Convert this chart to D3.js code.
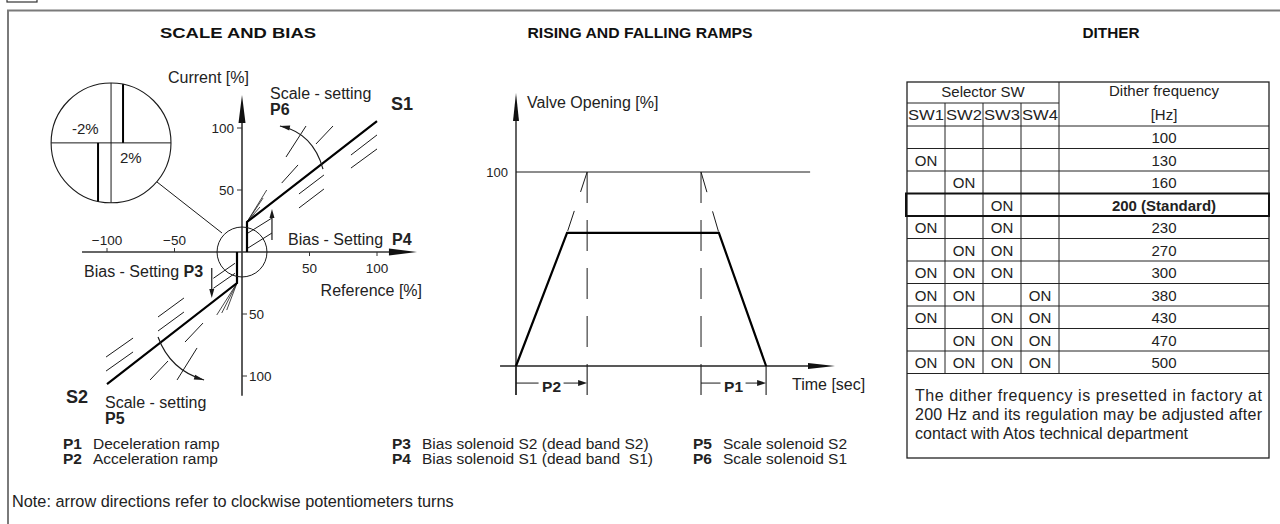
<!DOCTYPE html>
<html><head><meta charset="utf-8">
<script src="https://cdn.jsdelivr.net/npm/d3@7"></script>
<style>
body{margin:0;background:#fff;}
svg{display:block;font-family:"Liberation Sans",Arial,Helvetica,sans-serif;}
text{white-space:pre;}
</style></head><body>
<svg id="c" width="1280" height="524"></svg>
<script>
// ================= DATA =================
const sectionTitles = ["SCALE AND BIAS", "RISING AND FALLING RAMPS", "DITHER"];

// Scale & bias diagram (values in % of reference / current)
const refTicks = [-100, -50, 50, 100];
const currTicksUp = [50, 100];
const currTicksDown = [-50, -100];
const s1Curve = [[3.7, 0], [3.7, 24.2], [100, 105.6]];
const s2Curve = [[-3.7, 0], [-3.7, -25], [-100, -106.5]];
const s1Fan = [[18.3, 50], [15.6, 43.5], [13.3, 36.3]];
const s2Fan = [[-18.7, -50.8], [-15, -49.2], [-11.3, -46.8]];
const s1Hatch = [[[4.4, 3.2], [22.2, 15.3]], [[4.4, 15.3], [22.2, 27.4]]];
const s2Hatch = [[[-21.2, -21.2], [-5.2, -9.1]], [[-21.2, -29.3], [-5.2, -17.2]]];
const s1Alt = [
  [[29.4, 55.6], [41.5, 70.2]], [[32.6, 76.6], [47.4, 101.6]], [[54.8, 87.1], [67.4, 101.6]],
  [[42.2, 46.8], [60.7, 62.1]], [[42.2, 35.5], [60.7, 50.8]], [[80.7, 78.2], [100, 94.4]], [[80.7, 67.7], [100, 83.1]]
];
const s2Alt = [
  [[-62.2, -52.4], [-43, -37.1]], [[-62.2, -63.7], [-43, -48.4]], [[-100.7, -84.7], [-80.7, -69.4]], [[-100.7, -96], [-80.7, -80.6]],
  [[-42.2, -72.6], [-28.9, -57.3]], [[-68.1, -103.2], [-54.8, -87.9]], [[-48.1, -103.2], [-33.3, -77.4]]
];
const p4Arrow = [[22.2, 9.7], [22.2, 34.7]];
const p3Arrow = [[-22.4, -12.9], [-22.4, -37.1]];
const p6Arc = [[60, 66.9], [52.6, 96], [28.1, 101.6]];
const p5Arc = [[-62.2, -68.5], [-53.3, -95.2], [-28.1, -103.2]];
const zoomCircle = { r: 18.5 };
const insetCircle = { cx: -97, cy: 88, r: 44.4 };
const insetLink = [[-14.8, 15.3], [-63, 56.5]];
const insetBands = [[0.2, 1], [-0.217, -1]];   // local x, direction
const insetLabels = [["-2%", -0.43, 0.14], ["2%", 0.33, -0.34]];

// Ramps diagram (time units / valve opening %)
const rampTrap = [[0, 0], [16, 68.6], [63.6, 68.6], [78.4, 0]];
const rampExt = [[[16, 68.6], [22.3, 100]], [[63.6, 68.6], [58, 100]]];
const rampMarks = [22.3, 58];
const rampSpans = [["P2", 0, 22.3], ["P1", 58, 78.4]];
const valveTick = [100];

// Dither table
const swHeaders = ["SW1", "SW2", "SW3", "SW4"];
const swStates = [
  [0,0,0,0],[1,0,0,0],[0,1,0,0],[0,0,1,0],[1,0,1,0],[0,1,1,0],
  [1,1,1,0],[1,1,0,1],[1,0,1,1],[0,1,1,1],[1,1,1,1]
];
const ditherFreq = ["100","130","160","200 (Standard)","230","270","300","380","430","470","500"];
const standardRow = 3;
const ditherNote = [
  "The dither frequency is presetted in factory at",
  "200 Hz and its regulation may be adjusted after",
  "contact with Atos technical department"
];

// Legend
const legendKeys = ["P1","P2","P3","P4","P5","P6"];
const legendTexts = ["Deceleration ramp","Acceleration ramp","Bias solenoid S2 (dead band S2)",
  "Bias solenoid S1 (dead band  S1)","Scale solenoid S2","Scale solenoid S1"];
const noteText = "Note: arrow directions refer to clockwise potentiometers turns";

// ================= DRAW =================
const svg = d3.select("#c");
const INK = "#1a1a1a", TXT = "#222";

// frame
svg.append("rect").attr("x", 7).attr("y", -6).attr("width", 30).attr("height", 8)
  .attr("fill", "none").attr("stroke", "#333").attr("stroke-width", 1.2);
svg.append("path").attr("d", "M8,524 V10.5 H1280").attr("fill", "none")
  .attr("stroke", "#7a7a7a").attr("stroke-width", 2);

// titles
const titleX = [238, 640, 1111], titleW = [156, 225, 57];
svg.selectAll("text.title").data(sectionTitles).join("text").attr("class", "title")
  .attr("x", (d, i) => titleX[i]).attr("y", 38).attr("text-anchor", "middle")
  .attr("textLength", (d, i) => titleW[i]).attr("lengthAdjust", "spacingAndGlyphs")
  .attr("font-weight", "bold").attr("font-size", 15.5).attr("fill", "#111").text(d => d);

function tri(g, tip, ang, len, wid, fill) {
  const [x, y] = tip, c = Math.cos(ang), s = Math.sin(ang);
  const bx = x - c * len, by = y - s * len;
  const pts = [[x, y], [bx - s * wid / 2, by + c * wid / 2], [bx + s * wid / 2, by - c * wid / 2]];
  g.append("path").attr("d", "M" + pts.join("L") + "Z").attr("fill", fill || INK);
}

// ---------- SCALE AND BIAS ----------
const sx = d3.scaleLinear().domain([-100, 100]).range([107, 377]);
const sy = d3.scaleLinear().domain([-100, 100]).range([376, 128]);
const g1 = svg.append("g");
const L = d3.line().x(d => sx(d[0])).y(d => sy(d[1]));

// axes
g1.append("line").attr("x1", sx(-118.5)).attr("x2", sx(110)).attr("y1", sy(0)).attr("y2", sy(0))
  .attr("stroke", "#333").attr("stroke-width", 1.6);
tri(g1, [sx(129.6), sy(0)], 0, 28, 7, "#111");
g1.append("line").attr("x1", sx(0)).attr("x2", sx(0)).attr("y1", sy(-116)).attr("y2", sy(105))
  .attr("stroke", "#333").attr("stroke-width", 1.6);
tri(g1, [sx(0), sy(126.6)], -Math.PI / 2, 28, 7, "#111");

// ticks
g1.selectAll("line.xt").data(refTicks).join("line").attr("class", "xt")
  .attr("x1", d => sx(d)).attr("x2", d => sx(d))
  .attr("y1", d => sy(0) + (d < 0 ? -4 : 0)).attr("y2", d => sy(0) + (d < 0 ? 0 : 4))
  .attr("stroke", "#333").attr("stroke-width", 1);
g1.selectAll("text.xt").data(refTicks).join("text").attr("class", "xt")
  .attr("x", d => sx(d)).attr("y", d => d < 0 ? sy(0) - 7 : sy(0) + 21)
  .attr("text-anchor", "middle").attr("font-size", 13.5).attr("fill", TXT)
  .text(d => d < 0 ? "\u2212" + Math.abs(d) : d);
g1.selectAll("line.yu").data(currTicksUp).join("line").attr("class", "yu")
  .attr("x1", sx(0) - 5).attr("x2", sx(0)).attr("y1", d => sy(d)).attr("y2", d => sy(d))
  .attr("stroke", "#333");
g1.selectAll("text.yu").data(currTicksUp).join("text").attr("class", "yu")
  .attr("x", sx(0) - 8).attr("y", d => sy(d) + 5).attr("text-anchor", "end")
  .attr("font-size", 13.5).attr("fill", TXT).text(d => d);
g1.selectAll("line.yd").data(currTicksDown).join("line").attr("class", "yd")
  .attr("x1", sx(0)).attr("x2", sx(0) + 5).attr("y1", d => sy(d)).attr("y2", d => sy(d))
  .attr("stroke", "#333");
g1.selectAll("text.yd").data(currTicksDown).join("text").attr("class", "yd")
  .attr("x", sx(0) + 7).attr("y", d => sy(d) + 5).attr("text-anchor", "start")
  .attr("font-size", 13.5).attr("fill", TXT).text(d => Math.abs(d));

// thin decorative lines
const thin = (arr, w) => g1.selectAll(null).data(arr).join("path").attr("d", L)
  .attr("fill", "none").attr("stroke", INK).attr("stroke-width", w || 1);
thin(s1Alt); thin(s2Alt); thin(s1Hatch); thin(s2Hatch);
thin(s1Fan.map(p => [s1Curve[1], p]), 0.8);
thin(s2Fan.map(p => [s2Curve[1], p]), 0.8);

// curves
[s1Curve, s2Curve].forEach(c => g1.append("path").attr("d", L(c)).attr("fill", "none")
  .attr("stroke", "#000").attr("stroke-width", 2.2));

// bias arrows
[p4Arrow, p3Arrow].forEach(a => {
  const up = a[1][1] > a[0][1];
  g1.append("line").attr("x1", sx(a[0][0])).attr("x2", sx(a[1][0]))
    .attr("y1", sy(a[0][1])).attr("y2", sy(a[1][1]) + (up ? 6 : -6))
    .attr("stroke", INK).attr("stroke-width", 1.2);
  tri(g1, [sx(a[1][0]), sy(a[1][1])], up ? -Math.PI / 2 : Math.PI / 2, 9, 5);
});

// scale arcs
[p6Arc, p5Arc].forEach(a => {
  const q = a.map(p => [sx(p[0]), sy(p[1])]);
  g1.append("path").attr("d", `M${q[0]}Q${q[1]} ${q[2]}`).attr("fill", "none")
    .attr("stroke", INK).attr("stroke-width", 1.2);
  const ang = Math.atan2(q[2][1] - q[1][1], q[2][0] - q[1][0]);
  tri(g1, q[2], ang, 10, 5);
});

// zoom circle + inset
const rpx = sx(zoomCircle.r) - sx(0);
g1.append("circle").attr("cx", sx(0)).attr("cy", sy(0)).attr("r", rpx)
  .attr("fill", "none").attr("stroke", INK).attr("stroke-width", 1);
g1.append("path").attr("d", L(insetLink)).attr("stroke", INK).attr("stroke-width", 1);
const icx = sx(insetCircle.cx), icy = sy(insetCircle.cy), ir = sx(insetCircle.r) - sx(0);
const ix = d3.scaleLinear().domain([-1, 1]).range([icx - ir, icx + ir]);
const iy = d3.scaleLinear().domain([-1, 1]).range([icy + ir, icy - ir]);
g1.append("circle").attr("cx", icx).attr("cy", icy).attr("r", ir)
  .attr("fill", "#fff").attr("stroke", INK).attr("stroke-width", 1.1);
g1.append("line").attr("x1", ix(-1)).attr("x2", ix(1)).attr("y1", iy(0)).attr("y2", iy(0)).attr("stroke", INK);
g1.append("line").attr("x1", ix(0)).attr("x2", ix(0)).attr("y1", iy(-1)).attr("y2", iy(1)).attr("stroke", INK);
insetBands.forEach(([bx, dir]) => {
  const yy = Math.sqrt(1 - bx * bx) * dir;
  g1.append("line").attr("x1", ix(bx)).attr("x2", ix(bx)).attr("y1", iy(0)).attr("y2", iy(yy))
    .attr("stroke", "#000").attr("stroke-width", 2);
});
insetLabels.forEach(([t, lx, ly]) => g1.append("text").attr("x", ix(lx)).attr("y", iy(ly))
  .attr("text-anchor", "middle").attr("font-size", 15).attr("fill", TXT).text(t));

// labels
const lab = (x, y, parts, size, anchor) => {
  const t = g1.append("text").attr("x", x).attr("y", y).attr("font-size", size || 16)
    .attr("fill", TXT).attr("text-anchor", anchor || "start");
  parts.forEach(p => t.append("tspan").attr("font-weight", p[1] ? "bold" : null).text(p[0]));
};
lab(168, 83, [["Current [%]"]]);
lab(270, 99, [["Scale - setting"]]);
lab(270, 115, [["P6", 1]]);
lab(391, 110, [["S1", 1]], 18);
lab(288, 245, [["Bias - Setting  "], ["P4", 1]]);
lab(84, 277, [["Bias - Setting "], ["P3", 1]]);
lab(422, 296, [["Reference [%]"]], 16, "end");
lab(66, 403, [["S2", 1]], 18);
lab(105, 408, [["Scale - setting"]]);
lab(105, 424, [["P5", 1]]);

// ---------- RAMPS ----------
const tx = d3.scaleLinear().domain([0, 100]).range([516, 835]);
const vy = d3.scaleLinear().domain([0, 100]).range([366, 172]);
const g2 = svg.append("g");
const L2 = d3.line().x(d => tx(d[0])).y(d => vy(d[1]));
g2.append("line").attr("x1", tx(-5)).attr("x2", tx(92)).attr("y1", vy(0)).attr("y2", vy(0))
  .attr("stroke", "#222").attr("stroke-width", 1.4);
tri(g2, [tx(100), vy(0)], 0, 27, 6, "#111");
g2.append("line").attr("x1", tx(0)).attr("x2", tx(0)).attr("y1", vy(-15)).attr("y2", vy(128))
  .attr("stroke", "#222").attr("stroke-width", 1.4);
tri(g2, [tx(0), vy(140.7)], -Math.PI / 2, 28, 6, "#111");
valveTick.forEach(v => {
  g2.append("line").attr("x1", tx(0)).attr("x2", tx(92.2)).attr("y1", vy(v)).attr("y2", vy(v))
    .attr("stroke", INK).attr("stroke-width", 1);
  g2.append("text").attr("x", tx(0) - 8).attr("y", vy(v) + 5).attr("text-anchor", "end")
    .attr("font-size", 13).attr("fill", TXT).text(v);
});
g2.append("text").attr("x", 527).attr("y", 108).attr("font-size", 16).attr("fill", TXT).text("Valve Opening [%]");
rampMarks.forEach(m => {
  g2.append("line").attr("x1", tx(m)).attr("x2", tx(m)).attr("y1", vy(100)).attr("y2", vy(0))
    .attr("stroke", INK).attr("stroke-dasharray", "31,17").attr("stroke-width", 1);
});
rampExt.forEach(e => g2.append("path").attr("d", L2([e[1], e[0]])).attr("fill", "none")
  .attr("stroke", INK).attr("stroke-dasharray", "21,20").attr("stroke-width", 1));
g2.append("path").attr("d", L2(rampTrap)).attr("fill", "none").attr("stroke", "#000").attr("stroke-width", 2.2);
rampSpans.forEach(([k, a, b]) => {
  [a, b].forEach(v => g2.append("line").attr("x1", tx(v)).attr("x2", tx(v)).attr("y1", vy(0)).attr("y2", vy(-15))
    .attr("stroke", INK).attr("stroke-width", 1.1));
  const yy = vy(-8.8), mid = (tx(a) + tx(b)) / 2;
  g2.append("line").attr("x1", tx(a)).attr("x2", mid - 13).attr("y1", yy).attr("y2", yy).attr("stroke", INK);
  g2.append("line").attr("x1", mid + 12).attr("x2", tx(b) - 6).attr("y1", yy).attr("y2", yy).attr("stroke", INK);
  tri(g2, [tx(b), yy], 0, 9, 6);
  g2.append("text").attr("x", mid).attr("y", yy + 9).attr("text-anchor", "middle").attr("font-weight", "bold")
    .attr("font-size", 15.5).attr("fill", TXT).text(k);
});
g2.append("text").attr("x", 792).attr("y", 390).attr("font-size", 16).attr("fill", TXT).text("Time [sec]");

// ---------- DITHER TABLE ----------
const g3 = svg.append("g");
const T = { x0: 907, cw: 38, x1: 1269, top: 82, split: 103, head: 126, rh: 22.5, bottom: 458 };
const colX = d3.range(5).map(i => T.x0 + i * T.cw);
const rowY = i => T.head + i * T.rh;
const tEnd = rowY(ditherFreq.length);
const ln = (x1, y1, x2, y2, w) => g3.append("line").attr("x1", x1).attr("y1", y1).attr("x2", x2).attr("y2", y2)
  .attr("stroke", "#222").attr("stroke-width", w || 1);
g3.append("rect").attr("x", T.x0).attr("y", T.top).attr("width", T.x1 - T.x0).attr("height", T.bottom - T.top)
  .attr("fill", "none").attr("stroke", "#222").attr("stroke-width", 1.3);
ln(T.x0, T.split, colX[4], T.split);
ln(colX[4], T.top, colX[4], tEnd);
colX.slice(1, 4).forEach(x => ln(x, T.split, x, tEnd));
d3.range(ditherFreq.length + 1).forEach(i => ln(T.x0, rowY(i), T.x1, rowY(i)));
g3.append("rect").attr("x", T.x0 - 1).attr("y", rowY(standardRow)).attr("width", T.x1 - T.x0 + 1).attr("height", T.rh)
  .attr("fill", "none").attr("stroke", "#111").attr("stroke-width", 2);
const tt = (x, y, s, anchor, bold) => g3.append("text").attr("x", x).attr("y", y).attr("font-size", 15)
  .attr("text-anchor", anchor || "middle").attr("font-weight", bold ? "bold" : null).attr("fill", TXT).text(s);
tt((T.x0 + colX[4]) / 2, T.split - 6, "Selector SW");
tt((colX[4] + T.x1) / 2, T.split - 7, "Dither frequency");
tt((colX[4] + T.x1) / 2, T.head - 6, "[Hz]");
swHeaders.forEach((h, i) => g3.append("text").attr("x", colX[i] + T.cw / 2).attr("y", T.head - 6)
  .attr("font-size", 15).attr("text-anchor", "middle").attr("textLength", T.cw - 2)
  .attr("lengthAdjust", "spacingAndGlyphs").attr("fill", TXT).text(h));
swStates.forEach((r, ri) => {
  r.forEach((on, ci) => { if (on) tt(colX[ci] + T.cw / 2, rowY(ri) + 17, "ON"); });
  tt((colX[4] + T.x1) / 2, rowY(ri) + 17, ditherFreq[ri], "middle", ri === standardRow);
});
ditherNote.forEach((s, i) => {
  const t = g3.append("text").attr("x", 915).attr("y", tEnd + 27 + i * 19).attr("font-size", 16).attr("fill", TXT).text(s);
  if (i < ditherNote.length - 1) t.attr("textLength", 347).attr("lengthAdjust", "spacing");
});

// ---------- LEGEND ----------
const legX = [63, 392, 693], legY = [449, 464];
legendKeys.forEach((k, i) => {
  const x = legX[Math.floor(i / 2)], y = legY[i % 2];
  const t = svg.append("text").attr("x", x).attr("y", y).attr("font-size", 15.5).attr("fill", TXT);
  t.append("tspan").attr("font-weight", "bold").text(k);
  t.append("tspan").attr("x", x + 30).text(legendTexts[i]);
});
svg.append("text").attr("x", 12).attr("y", 507).attr("font-size", 16.3).attr("fill", TXT).text(noteText);
</script></body></html>
